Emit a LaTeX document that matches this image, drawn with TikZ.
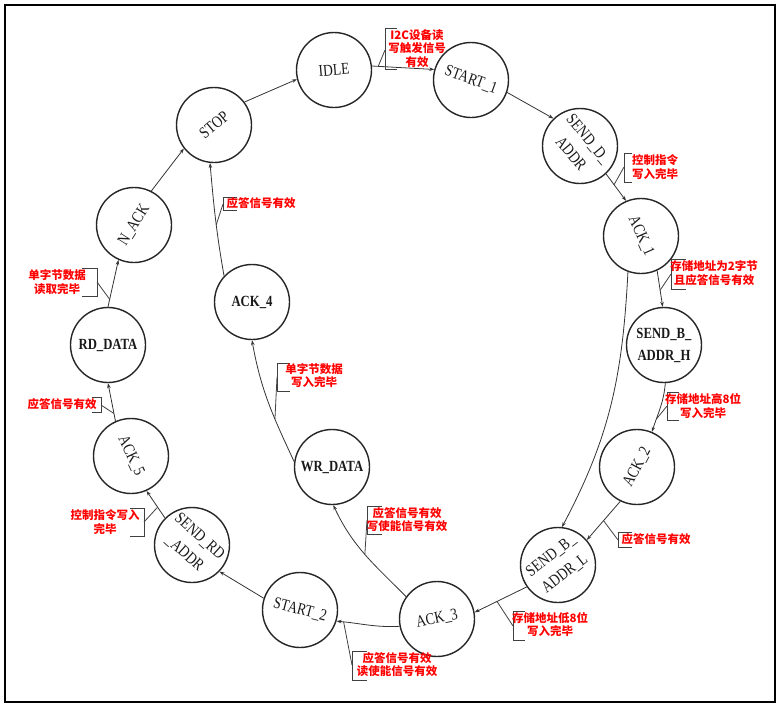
\documentclass[tikz,border=0pt]{standalone}
\usepackage{fontspec}
\newfontfamily\nodefont{Liberation Serif}[FakeStretch=0.82]
\newfontfamily\cjk{Noto Sans CJK SC}
\usetikzlibrary{arrows.meta}
\begin{document}
\begin{tikzpicture}[x=1pt,y=1pt,
  st/.style={circle,draw=black!85,line width=1.4pt,minimum size=75pt,inner sep=0pt},
  lt/.style={inner sep=0pt,align=center,text=black!90,font=\nodefont\fontsize{16.5}{22.5}\selectfont},
  blt/.style={lt,font=\nodefont\bfseries\fontsize{15.5}{22}\selectfont},
  edge/.style={draw=black!80,line width=0.8pt,-{Stealth[length=5pt,width=3.5pt]}},
  brk/.style={draw=black!75,line width=0.8pt},
  lbl/.style={text=red,font=\cjk\bfseries\fontsize{11.5}{13.5}\selectfont,align=center,inner sep=0pt}]
\useasboundingbox (0,0) rectangle (778,-707);
\draw[line width=2pt] (4.5,-4.5) rectangle (775,-702);

% states
\node[st] (IDLE) at (334,-70) {};
\node[lt,rotate=5] (IDLEt) at (IDLE) {IDLE};
\node[st] (START1) at (471,-80) {};
\node[lt,rotate=-20] (START1t) at (START1) {START\_1};
\node[st] (SDA) at (580,-146) {};
\node[lt,rotate=-50] (SDAt) at (SDA) {SEND\_D\_\\ADDR};
\node[st] (ACK1) at (641,-236) {};
\node[lt,rotate=-66] (ACK1t) at (ACK1) {ACK\_1};
\node[st] (SBH) at (664,-345) {};
\node[blt] (SBHt) at (SBH) {SEND\_B\_\\ADDR\_H};
\node[st] (ACK2) at (637,-467) {};
\node[lt,rotate=62] (ACK2t) at (ACK2) {ACK\_2};
\node[st] (SBL) at (558,-565) {};
\node[lt,rotate=38] (SBLt) at (SBL) {SEND\_B\_\\ADDR\_L};
\node[st] (ACK3) at (437,-619) {};
\node[lt,rotate=12] (ACK3t) at (ACK3) {ACK\_3};
\node[st] (START2) at (300,-610) {};
\node[lt,rotate=-15] (START2t) at (START2) {START\_2};
\node[st] (SRD) at (192,-545) {};
\node[lt,rotate=-42] (SRDt) at (SRD) {SEND\_RD\\\_ADDR};
\node[st] (ACK5) at (131,-456) {};
\node[lt,rotate=-65] (ACK5t) at (ACK5) {ACK\_5};
\node[st] (RD) at (108,-345) {};
\node[blt] (RDt) at (RD) {RD\_DATA};
\node[st] (NACK) at (134,-225) {};
\node[lt,rotate=58] (NACKt) at (NACK) {N\_ACK};
\node[st] (STOP) at (214,-125) {};
\node[lt,rotate=40] (STOPt) at (STOP) {STOP};
\node[st] (ACK4) at (252,-302) {};
\node[blt] (ACK4t) at (ACK4) {ACK\_4};
\node[st] (WR) at (332,-467) {};
\node[blt] (WRt) at (WR) {WR\_DATA};

% transitions
\draw[edge] (IDLE.6) -- coordinate[pos=0.1] (eA) (START1.164);
\draw[edge] (START1.-19) -- (SDA.134);
\draw[edge] (SDA.-47) -- coordinate[pos=0.4] (eB) (ACK1.113);
\draw[edge] (ACK1.-65) -- coordinate[pos=0.54] (eC) (SBH.92);
\draw[edge] (ACK1.-110) to[out=-93,in=62] (SBL.84);
\draw[edge] (SBH.-88) to[out=-95,in=72] coordinate[pos=0.75] (eD) (ACK2.67);
\draw[edge] (ACK2.-116) -- coordinate[pos=0.5] (eE) (SBL.41);
\draw[edge] (SBL.-145) -- coordinate[pos=0.57] (eF) (ACK3.10);
\draw[edge] (ACK3.191) to[out=183,in=-5] coordinate[pos=0.9] (eG) (START2.-17);
\draw[edge] (START2.162) -- (SRD.-44);
\draw[edge] (SRD.135) -- coordinate[pos=0.4] (eM) (ACK5.-66);
\draw[edge] (ACK5.114) -- coordinate[pos=0.2] (eL) (RD.-90);
\draw[edge] (RD.90) -- coordinate[pos=0.16] (eK) (NACK.-114);
\draw[edge] (NACK.63) -- (STOP.218);
\draw[edge] (STOP.37) -- (IDLE.194);
\draw[edge] (ACK4.137) to[out=100,in=-85] coordinate[pos=0.45] (eJ) (STOP.-96);
\draw[edge] (WR.172) to[out=115,in=-80] coordinate[pos=0.35] (eI) (ACK4.-90);
\draw[edge] (ACK3.144) to[out=135,in=-65] coordinate[pos=0.5] (eH) (WR.-88);

% callouts
\draw[brk] (397,-28) -- (385,-28) -- (385,-69) -- (397,-69);
\coordinate (bA) at (385,-50); \draw[brk] (bA) -- (eA);
\node[lbl] (tA) at (417,-48.5) {I2C设备读\\写触发信号\\有效};

\draw[brk] (632,-153) -- (624,-153) -- (624,-182) -- (632,-182);
\coordinate (bB) at (624,-167); \draw[brk] (bB) -- (eB);
\node[lbl] (tB) at (655,-167) {控制指令\\写入完毕};

\draw[brk] (686,-259) -- (671,-259) -- (671,-289) -- (686,-289);
\coordinate (bC) at (671,-274); \draw[brk] (bC) -- (eC);
\node[lbl] (tC) at (714,-273) {存储地址为2字节\\且应答信号有效};

\draw[brk] (679,-392) -- (667,-392) -- (667,-420) -- (679,-420);
\coordinate (bD) at (667,-406); \draw[brk] (bD) -- (eD);
\node[lbl] (tD) at (703,-406) {存储地址高8位\\写入完毕};

\draw[brk] (632,-532) -- (618,-532) -- (618,-547) -- (632,-547);
\coordinate (bE) at (618,-540); \draw[brk] (bE) -- (eE);
\node[lbl] (tE) at (656,-539) {应答信号有效};

\draw[brk] (525,-611) -- (513,-611) -- (513,-640) -- (525,-640);
\coordinate (bF) at (513,-626); \draw[brk] (bF) -- (eF);
\node[lbl] (tF) at (550,-624.5) {存储地址低8位\\写入完毕};

\draw[brk] (367,-651) -- (352,-651) -- (352,-680) -- (367,-680);
\coordinate (bG) at (352,-665); \draw[brk] (bG) -- (eG);
\node[lbl] (tG) at (397,-664.5) {应答信号有效\\读使能信号有效};

\draw[brk] (382,-506) -- (367,-506) -- (367,-534) -- (382,-534);
\coordinate (bH) at (367,-520); \draw[brk] (bH) -- (eH);
\node[lbl] (tH) at (407,-519.5) {应答信号有效\\写使能信号有效};

\draw[brk] (290,-363) -- (277,-363) -- (277,-391) -- (290,-391);
\coordinate (bI) at (277,-377); \draw[brk] (bI) -- (eI);
\node[lbl] (tI) at (314,-375.5) {单字节数据\\写入完毕};

\draw[brk] (237,-197) -- (223,-197) -- (223,-210) -- (237,-210);
\coordinate (bJ) at (223,-204); \draw[brk] (bJ) -- (eJ);
\node[lbl] (tJ) at (261,-203) {应答信号有效};

\draw[brk] (82,-268) -- (97,-268) -- (97,-296) -- (82,-296);
\coordinate (bK) at (97,-282); \draw[brk] (bK) -- (eK);
\node[lbl] (tK) at (57,-282) {单字节数据\\读取完毕};

\draw[brk] (92,-397) -- (101,-397) -- (101,-412) -- (92,-412);
\coordinate (bL) at (101,-405); \draw[brk] (bL) -- (eL);
\node[lbl] (tL) at (62,-404) {应答信号有效};

\draw[brk] (130,-508) -- (144,-508) -- (144,-536) -- (130,-536);
\coordinate (bM) at (144,-522); \draw[brk] (bM) -- (eM);
\node[lbl] (tM) at (105,-522) {控制指令写入\\完毕};
\end{tikzpicture}
\end{document}
